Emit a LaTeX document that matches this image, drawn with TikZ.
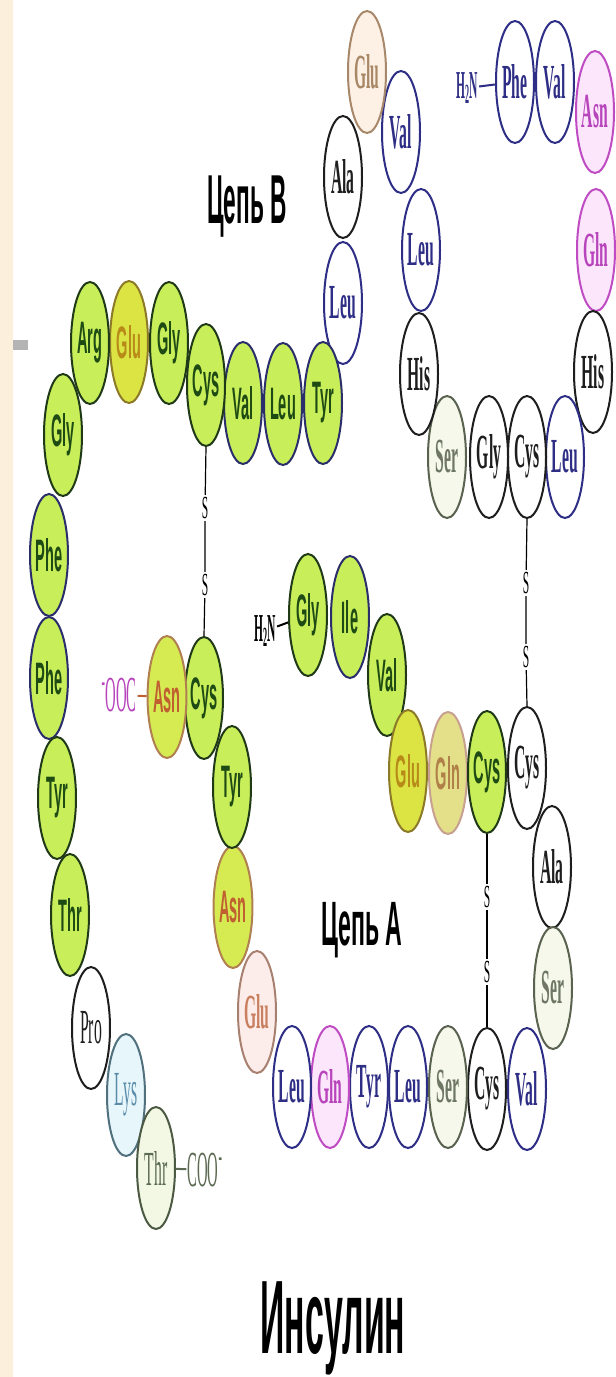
\documentclass[tikz,border=0pt]{standalone}
\usepackage{fontspec}
\setmainfont{Liberation Serif}
\setsansfont{Liberation Sans}
\usetikzlibrary{shapes.geometric}
\definecolor{GrnF}{HTML}{C8EE5A}\definecolor{GrnD}{HTML}{203A18}\definecolor{GrnT}{HTML}{1E4A14}
\definecolor{GrnB}{HTML}{2A2E6A}
\definecolor{YelF}{HTML}{DCE444}\definecolor{YelD}{HTML}{8C7A28}\definecolor{YelT}{HTML}{B88A18}
\definecolor{AsnF}{HTML}{D6EA52}\definecolor{AsnD}{HTML}{B08050}\definecolor{AsnT}{HTML}{C06030}
\definecolor{GlnF}{HTML}{E4E08A}\definecolor{GlnD}{HTML}{C8A090}\definecolor{GlnT}{HTML}{B08048}
\definecolor{BluD}{HTML}{2E2E86}
\definecolor{BlkD}{HTML}{1E1E1E}
\definecolor{MagF}{HTML}{FBE6FB}\definecolor{MagD}{HTML}{C04CC4}\definecolor{MagT}{HTML}{B844BC}
\definecolor{PchF}{HTML}{FDF1E6}\definecolor{PchD}{HTML}{A8886A}\definecolor{PchT}{HTML}{A88866}
\definecolor{PkF}{HTML}{FDEDEA}\definecolor{PkD}{HTML}{A88070}\definecolor{PkT}{HTML}{C88060}
\definecolor{SerF}{HTML}{F5F8EA}\definecolor{SerD}{HTML}{5A6250}\definecolor{SerT}{HTML}{6E7664}
\definecolor{LysF}{HTML}{E6F6FB}\definecolor{LysD}{HTML}{50707E}\definecolor{LysT}{HTML}{5A8CAA}
\definecolor{ThrF}{HTML}{F2F8E4}\definecolor{ThrD}{HTML}{4C5A44}\definecolor{ThrT}{HTML}{5C6A52}
\definecolor{Strip}{HTML}{FCF0DC}\definecolor{BarG}{HTML}{B4B4B4}
\newcommand{\lbl}[1]{\scalebox{1.12}[3.5]{#1}}
\newcommand{\tlbl}[1]{\scalebox{1.05}[3.6]{#1}}
\newcommand{\slbl}[1]{\scalebox{1}[2.8]{#1}}
\tikzset{
  bead/.style={ellipse, minimum width=38pt, minimum height=122pt, inner sep=0pt, line width=2pt,
    font=\bfseries\fontsize{14}{14}\selectfont},
  grn/.style={bead, fill=GrnF, draw=GrnD, text=GrnT, font=\sffamily\bfseries\fontsize{13}{13}\selectfont},
  grnb/.style={grn, draw=GrnB},
  yel/.style={bead, fill=YelF, draw=YelD, text=YelT, font=\sffamily\bfseries\fontsize{13}{13}\selectfont},
  asn/.style={bead, fill=AsnF, draw=AsnD, text=AsnT, font=\sffamily\bfseries\fontsize{13}{13}\selectfont},
  glnA/.style={bead, fill=GlnF, draw=GlnD, text=GlnT, font=\sffamily\bfseries\fontsize{13}{13}\selectfont},
  blu/.style={bead, fill=white, draw=BluD, text=BluD},
  blk/.style={bead, fill=white, draw=BlkD, text=BlkD},
  mag/.style={bead, fill=MagF, draw=MagD, text=MagT},
  pch/.style={bead, fill=PchF, draw=PchD, text=PchT},
  pk/.style={bead, fill=PkF, draw=PkD, text=PkT},
  ser/.style={bead, fill=SerF, draw=SerD, text=SerT},
  lys/.style={bead, fill=LysF, draw=LysD, text=LysT, font=\fontsize{14}{14}\selectfont},
  thr/.style={bead, fill=ThrF, draw=ThrD, text=ThrT, font=\fontsize{14}{14}\selectfont},
  pro/.style={blk, font=\fontsize{14}{14}\selectfont},
  sS/.style={inner sep=2pt, font=\fontsize{11.5}{11.5}\selectfont},
  ssb/.style={draw=black, line width=1.2pt},
  term/.style={inner sep=1pt, font=\bfseries\fontsize{11}{11}\selectfont},
  conn/.style={line width=2pt},
  chain/.style={font=\sffamily\bfseries\fontsize{22}{22}\selectfont, inner sep=0pt, anchor=base},
}
\begin{document}
\begin{tikzpicture}[x=1pt,y=-1pt]
\useasboundingbox (0,0) rectangle (616,1377);
\fill[white] (0,0) rectangle (616,1377);
\fill[Strip] (0,0) rectangle (13,1377);
\fill[BarG] (13,340) rectangle (28,350);
% Chain B
\node[blu] (b1) at (515,82) {\lbl{Phe}};
\node[blu] (b2) at (555,82) {\lbl{Val}};
\node[mag] (b3) at (595,112) {\lbl{Asn}};
\node[mag] (b4) at (596,250) {\lbl{Gln}};
\node[blk] (b5) at (593,372) {\lbl{His}};
\node[blu] (b6) at (565,457) {\lbl{Leu}};
\node[blk] (b7) at (527,457) {\lbl{Cys}};
\node[blk] (b8) at (489,457) {\lbl{Gly}};
\node[ser] (b9) at (447,457) {\lbl{Ser}};
\node[blk] (b10) at (419,374) {\lbl{His}};
\node[blu] (b11) at (421,250) {\lbl{Leu}};
\node[blu] (b12) at (401,132) {\lbl{Val}};
\node[pch] (b13) at (367,72) {\lbl{Glu}};
\node[blk] (b14) at (343,177) {\lbl{Ala}};
\node[blu] (b15) at (343,303) {\lbl{Leu}};
\node[grnb] (b16) at (323,403) {\lbl{Tyr}};
\node[grnb] (b17) at (283,404) {\lbl{Leu}};
\node[grnb] (b18) at (243,403) {\lbl{Val}};
\node[grn] (b19) at (206,385) {\lbl{Cys}};
\node[grn] (b20) at (169,343) {\lbl{Gly}};
\node[yel] (b21) at (129,342) {\lbl{Glu}};
\node[grn] (b22) at (90,343) {\lbl{Arg}};
\node[grn] (b23) at (63,435) {\lbl{Gly}};
\node[grnb] (b24) at (49,555) {\lbl{Phe}};
\node[grnb] (b25) at (49,678) {\lbl{Phe}};
\node[grn] (b26) at (57,798) {\lbl{Tyr}};
\node[grn] (b27) at (70,915) {\lbl{Thr}};
\node[pro] (b28) at (91,1028) {\lbl{Pro}};
\node[lys] (b29) at (126,1095) {\lbl{Lys}};
\node[thr] (b30) at (156,1168) {\lbl{Thr}};
% Chain A
\node[grn] (a1) at (308,615) {\lbl{Gly}};
\node[grnb] (a2) at (350,617) {\lbl{Ile}};
\node[grn] (a3) at (387,675) {\lbl{Val}};
\node[yel] (a4) at (408,771) {\lbl{Glu}};
\node[glnA] (a5) at (448,773) {\lbl{Gln}};
\node[grn] (a6) at (487,772) {\lbl{Cys}};
\node[blk] (a7) at (527,768) {\lbl{Cys}};
\node[blk] (a8) at (552,867) {\lbl{Ala}};
\node[ser] (a9) at (553,988) {\lbl{Ser}};
\node[blu] (a10) at (527,1089) {\lbl{Val}};
\node[blk] (a11) at (487,1089) {\lbl{Cys}};
\node[ser] (a12) at (448,1087) {\lbl{Ser}};
\node[blu] (a13) at (408,1087) {\lbl{Leu}};
\node[blu] (a14) at (369,1087) {\lbl{Tyr}};
\node[mag] (a15) at (330,1087) {\lbl{Gln}};
\node[blu] (a16) at (292,1087) {\lbl{Leu}};
\node[pk] (a17) at (257,1012) {\lbl{Glu}};
\node[asn] (a18) at (233,907) {\lbl{Asn}};
\node[grn] (a19) at (232,787) {\lbl{Tyr}};
\node[grn] (a20) at (204,698) {\lbl{Cys}};
\node[asn] (a21) at (167,697) {\lbl{Asn}};
% disulfide bridges
\node[sS] (s1) at (205,508) {\slbl{S}};
\node[sS] (s2) at (205,585) {\slbl{S}};
\draw[ssb] (b19.south) -- (s1) -- (s2) -- (a20.north);
\node[sS] (s3) at (526,583) {\slbl{S}};
\node[sS] (s4) at (526,657) {\slbl{S}};
\draw[ssb] (b7.south) -- (s3) -- (s4) -- (a7.north);
\node[sS] (s5) at (487,897) {\slbl{S}};
\node[sS] (s6) at (487,972) {\slbl{S}};
\draw[ssb] (a6.south) -- (s5) -- (s6) -- (a11.north);
% termini
\node[term, text=BluD] (nB) at (467,88) {\tlbl{H\textsubscript{2}N}};
\draw[conn, BluD] (nB) -- (b1);
\node[term, text=black] (nA) at (265,631) {\tlbl{H\textsubscript{2}N}};
\draw[conn, black] (nA) -- (a1);
\node[term, text=MagT, font=\fontsize{14}{14}\selectfont] (cA) at (119,695) {\tlbl{\textsuperscript{-}OOC}};
\draw[conn, AsnT] (cA) -- (a21);
\node[term, text=ThrT, font=\fontsize{14}{14}\selectfont] (cB) at (205,1170) {\tlbl{COO\textsuperscript{-}}};
\draw[conn, ThrT] (b30) -- (cB);
% titles
\node[chain] (tB) at (247,223) {\scalebox{1.03}[3.15]{Цепь В}};
\node[chain] (tA) at (362,945) {\scalebox{1.05}[2.85]{Цепь А}};
\node[chain, font=\sffamily\bfseries\fontsize{36}{36}\selectfont] (title) at (333,1353) {\scalebox{0.94}[2.9]{Инсулин}};
\end{tikzpicture}
\end{document}
